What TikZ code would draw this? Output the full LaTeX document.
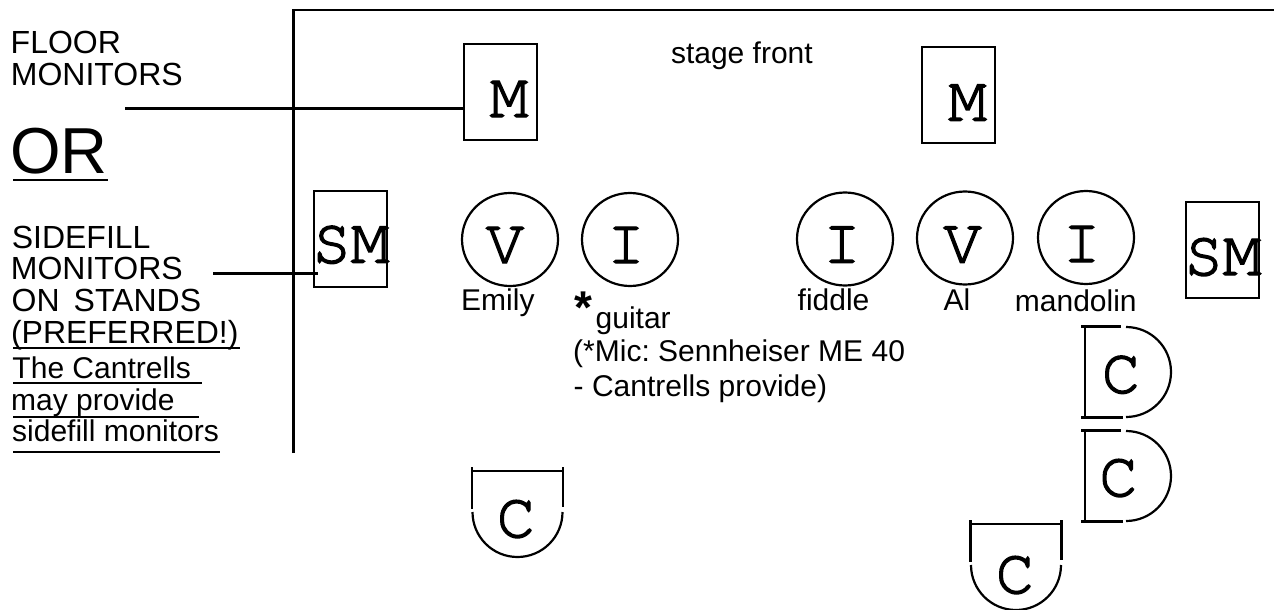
\documentclass[tikz,border=0pt]{standalone}
\usepackage{fontspec}
\setmainfont{Liberation Sans}
\newcommand{\courierfam}{\fontencoding{OT1}\fontfamily{pcr}\fontseries{m}\fontshape{n}}
\newcommand{\heavy}[1]{\special{pdf:literal direct 2 Tr 1.4 w}#1\special{pdf:literal direct 0 Tr}}
\usetikzlibrary{shapes.geometric}
\frenchspacing
\begin{document}
\begin{tikzpicture}[x=1pt,y=-1pt,
  lowtxt/.style={inner sep=0pt, anchor=base west, font=\fontsize{30}{36}\selectfont},
  capstxt/.style={inner sep=0pt, anchor=base west, font=\fontsize{32}{36}\selectfont},
  glyph/.style={inner sep=0pt, anchor=base, font=\courierfam\fontsize{64}{70}\selectfont},
  monbox/.style={draw, line width=2.2pt, minimum width=73pt, minimum height=96pt, inner sep=0pt},
  musician/.style={draw, ellipse, line width=2.2pt, minimum width=96pt, minimum height=93pt, inner sep=0pt},
  stageline/.style={line width=2.8pt},
  lead/.style={line width=2.6pt},
  uline/.style={line width=2pt},
  cabline/.style={line width=2.2pt},
  cabinet/.pic={
    \draw[cabline] (-45.5,-45) -- (-45.5,-3);
    \draw[cabline] (45.5,-45) -- (45.5,-5);
    \draw[cabline] (-45.5,-41) -- (45.5,-41);
    \draw[cabline] (-45,0) arc[start angle=180, end angle=0, radius=45];
  }
]
\useasboundingbox (0,0) rectangle (1274,610);

% stage outline
\coordinate (stagecorner) at (293.3,10);
\coordinate (stagebottom) at (293.3,453);
\coordinate (stageright) at (1274,10);
\draw[stageline] (stagebottom) -- (stagecorner) -- (stageright);

% left legend
\node[capstxt] (t1) at (10.5,53.3) {FLOOR};
\node[capstxt] (t2) at (10.7,85) {MONITORS};
\node[inner sep=0pt, anchor=base west, font=\fontsize{65}{70}\selectfont] (tor) at (9.9,173.3) {OR};
\node[capstxt] (t3) at (11.6,248.3) {SIDEFILL};
\node[capstxt] (t4) at (10.7,279.3) {MONITORS};
\node[capstxt] (t5) at (11.5,311.7) {ON\hspace{14pt}STANDS};
\node[capstxt] (t6) at (10.8,343.3) {(PREFERRED!)};
\node[lowtxt] (t7) at (12.3,378) {The Cantrells};
\node[lowtxt] (t8) at (11,410) {may provide};
\node[lowtxt] (t9) at (12,441.7) {sidefill monitors};
\draw[uline] (13,180) -- (108,180);
\draw[uline] (13,348.3) -- (240,348.3);
\draw[uline] (13,382.7) -- (201.7,382.7);
\draw[uline] (13,416.7) -- (199,416.7);
\draw[uline] (13,451.7) -- (220,451.7);

% monitors
\node[monbox] (m1) at (500.5,92) {};
\node[monbox] (m2) at (958.8,95) {};
\node[monbox] (sm1) at (350.8,239.2) {};
\node[monbox] (sm2) at (1222.7,250) {};
\node[glyph] at (509,117) {\heavy{M}};
\node[glyph] at (967.5,120.7) {\heavy{M}};
\node[glyph] at (350.8,262.7) {\heavy{SM}};
\node[glyph] at (1222.8,275) {\heavy{SM}};

% leader lines
\coordinate (floorstart) at (125,108.3);
\coordinate (sidestart) at (213,273.5);
\draw[lead] (floorstart) -- (floorstart -| m1.west);
\draw[lead] (sidestart) -- ([xshift=5pt]sidestart -| sm1.west);

\node[lowtxt] (front) at (670.8,63.3) {stage front};

% musicians
\node[musician] (c1) at (510,239.5) {};
\node[musician] (c2) at (630,239.5) {};
\node[musician] (c3) at (845,239) {};
\node[musician] (c4) at (965,238) {};
\node[musician] (c5) at (1086,237.5) {};
\node[glyph] at (505,263) {\heavy{V}};
\node[glyph] at (626,263) {\heavy{I}};
\node[glyph] at (842,262.7) {\heavy{I}};
\node[glyph] at (962.5,262.7) {\heavy{V}};
\node[glyph] at (1081.7,262) {\heavy{I}};

\node[lowtxt] (emily) at (461,310.7) {Emily};
\node[inner sep=0pt, anchor=base west, font=\bfseries\fontsize{46}{50}\selectfont] (star) at (574,323) {*};
\node[lowtxt] (guitar) at (595.5,328.5) {guitar};
\node[lowtxt] (fiddle) at (797.5,310.7) {fiddle};
\node[lowtxt] (al) at (943.5,310.7) {Al};
\node[lowtxt] (mando) at (1014.7,311) {mandolin};
\node[lowtxt] (mic1) at (573,361.7) {(*Mic: Sennheiser ME 40};
\node[lowtxt] (mic2) at (573.5,396.7) {- Cantrells provide)};

% cabinets
\pic at (517.5,512) {cabinet};
\pic at (1016,565) {cabinet};
\pic[rotate=90] at (1126,372) {cabinet};
\pic[rotate=90] at (1126,476) {cabinet};
\node[glyph] at (516,537) {\heavy{C}};
\node[glyph] at (1015,593) {\heavy{C}};
\node[glyph] at (1121,392.7) {\heavy{C}};
\node[glyph] at (1118.5,496) {\heavy{C}};
\end{tikzpicture}
\end{document}
